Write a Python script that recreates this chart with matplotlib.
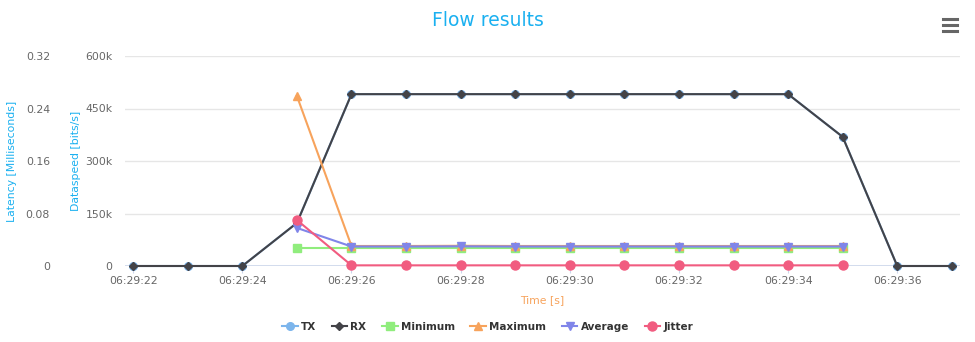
import numpy as np
import matplotlib.pyplot as plt
from matplotlib.ticker import FuncFormatter

# Time axis (seconds after 06:29:00)
rate_secs = [22, 23, 24, 25, 26, 27, 28, 29, 30, 31, 32, 33, 34, 35, 36, 37]
rx_vals = [0, 0, 0, 123000, 491000, 491000, 491000, 491000, 491000, 491000,
           491000, 491000, 491000, 369000, 0, 0]
tx_vals = list(rx_vals)

lat_secs = [25, 26, 27, 28, 29, 30, 31, 32, 33, 34, 35]
lat_min = [0.0274, 0.0274, 0.0274, 0.0274, 0.0274, 0.0274, 0.0274, 0.0274, 0.0274, 0.0274, 0.0274]
lat_max = [0.259, 0.0305, 0.0305, 0.0308, 0.0305, 0.0305, 0.0305, 0.0305, 0.0305, 0.0305, 0.0305]
lat_avg = [0.058, 0.0297, 0.0297, 0.0300, 0.0297, 0.0297, 0.0297, 0.0297, 0.0297, 0.0297, 0.0297]
jitter = [0.070, 0.001, 0.001, 0.001, 0.001, 0.001, 0.001, 0.001, 0.001, 0.001, 0.001]

tick_secs = [22, 24, 26, 28, 30, 32, 34, 36]
tick_labels = ['06:29:%02d' % s for s in tick_secs]

c_tx, c_rx, c_min = '#7cb5ec', '#434348', '#90ed7d'
c_max, c_avg, c_jit = '#f7a35c', '#8085e9', '#f15c80'
title_col = '#1ab0f0'
tick_col = '#666666'

fig = plt.figure(figsize=(9.75, 3.42), dpi=100)
ax = fig.add_axes([125 / 975, 76 / 342, 835 / 975, 210 / 342])
ax2 = ax.twinx()

ax.set_xlim(21.85, 37.15)
ax.set_ylim(0, 600000)
ax2.set_ylim(0, 0.32)

ax.set_yticks([0, 150000, 300000, 450000, 600000])
ax.yaxis.set_major_formatter(FuncFormatter(lambda v, p: '0' if v == 0 else '%dk' % (v / 1000)))
ax2.set_yticks([0, 0.08, 0.16, 0.24, 0.32])
ax2.yaxis.set_major_formatter(FuncFormatter(lambda v, p: '0' if v == 0 else '%.2f' % v))
ax2.yaxis.set_ticks_position('left')
ax2.yaxis.set_label_position('left')
ax2.spines['left'].set_position(('outward', 45))  # points

for a in (ax, ax2):
    for s in a.spines.values():
        s.set_visible(False)
ax.tick_params(axis='y', length=0, pad=9, labelsize=7.8, labelcolor=tick_col)
ax2.tick_params(axis='y', length=0, pad=9, labelsize=7.8, labelcolor=tick_col)
ax.tick_params(axis='x', length=5, color='#ccd6eb', labelsize=7.8, labelcolor=tick_col, pad=2)

ax.set_xticks(tick_secs)
ax.set_xticklabels(tick_labels)
ax.grid(axis='y', color='#e6e6e6', linewidth=1)
ax.axhline(0, color='#ccd6eb', linewidth=1.2, zorder=1)
ax.set_axisbelow(True)

ax.set_ylabel('Dataspeed [bits/s]', color=title_col, fontsize=7.8, labelpad=3)
ax2.set_ylabel('Latency [Milliseconds]', color=title_col, fontsize=7.8, labelpad=6)
ax.set_xlabel('Time [s]', color=c_max, fontsize=7.8, labelpad=7)

kw = dict(linewidth=1.5, markersize=5.5, clip_on=False)
h_tx, = ax.plot(rate_secs, tx_vals, color=c_tx, marker='o', label='TX', zorder=3, **kw)
h_rx, = ax.plot(rate_secs, rx_vals, color=c_rx, marker='D', label='RX', zorder=4,
                linewidth=1.5, markersize=4.5, clip_on=False)
h_min, = ax2.plot(lat_secs, lat_min, color=c_min, marker='s', label='Minimum', zorder=5, **kw)
h_max, = ax2.plot(lat_secs, lat_max, color=c_max, marker='^', label='Maximum', zorder=6, **kw)
h_avg, = ax2.plot(lat_secs, lat_avg, color=c_avg, marker='v', label='Average', zorder=7, **kw)
h_jit, = ax2.plot(lat_secs, jitter, color=c_jit, marker='o', label='Jitter', zorder=8,
                  linewidth=1.5, markersize=6.5, clip_on=False)

fig.text(0.5, 1 - 21 / 342, 'Flow results', ha='center', va='center',
         color=title_col, fontsize=13.5)

# menu icon
for dy in (19, 25, 31):
    fig.add_artist(plt.Line2D([943 / 975, 957 / 975], [1 - dy / 342] * 2,
                              color='#666666', linewidth=2.2))

handles = [h_tx, h_rx, h_min, h_max, h_avg, h_jit]
leg = fig.legend(handles, [h.get_label() for h in handles], loc='center',
                 bbox_to_anchor=(0.5, 1 - 327 / 342), ncol=6, frameon=False,
                 handlelength=1.5, columnspacing=1.5, handletextpad=0.3,
                 prop={'weight': 'bold', 'size': 7.5})
for t in leg.get_texts():
    t.set_color('#333333')

plt.savefig('out.png', dpi=100)
